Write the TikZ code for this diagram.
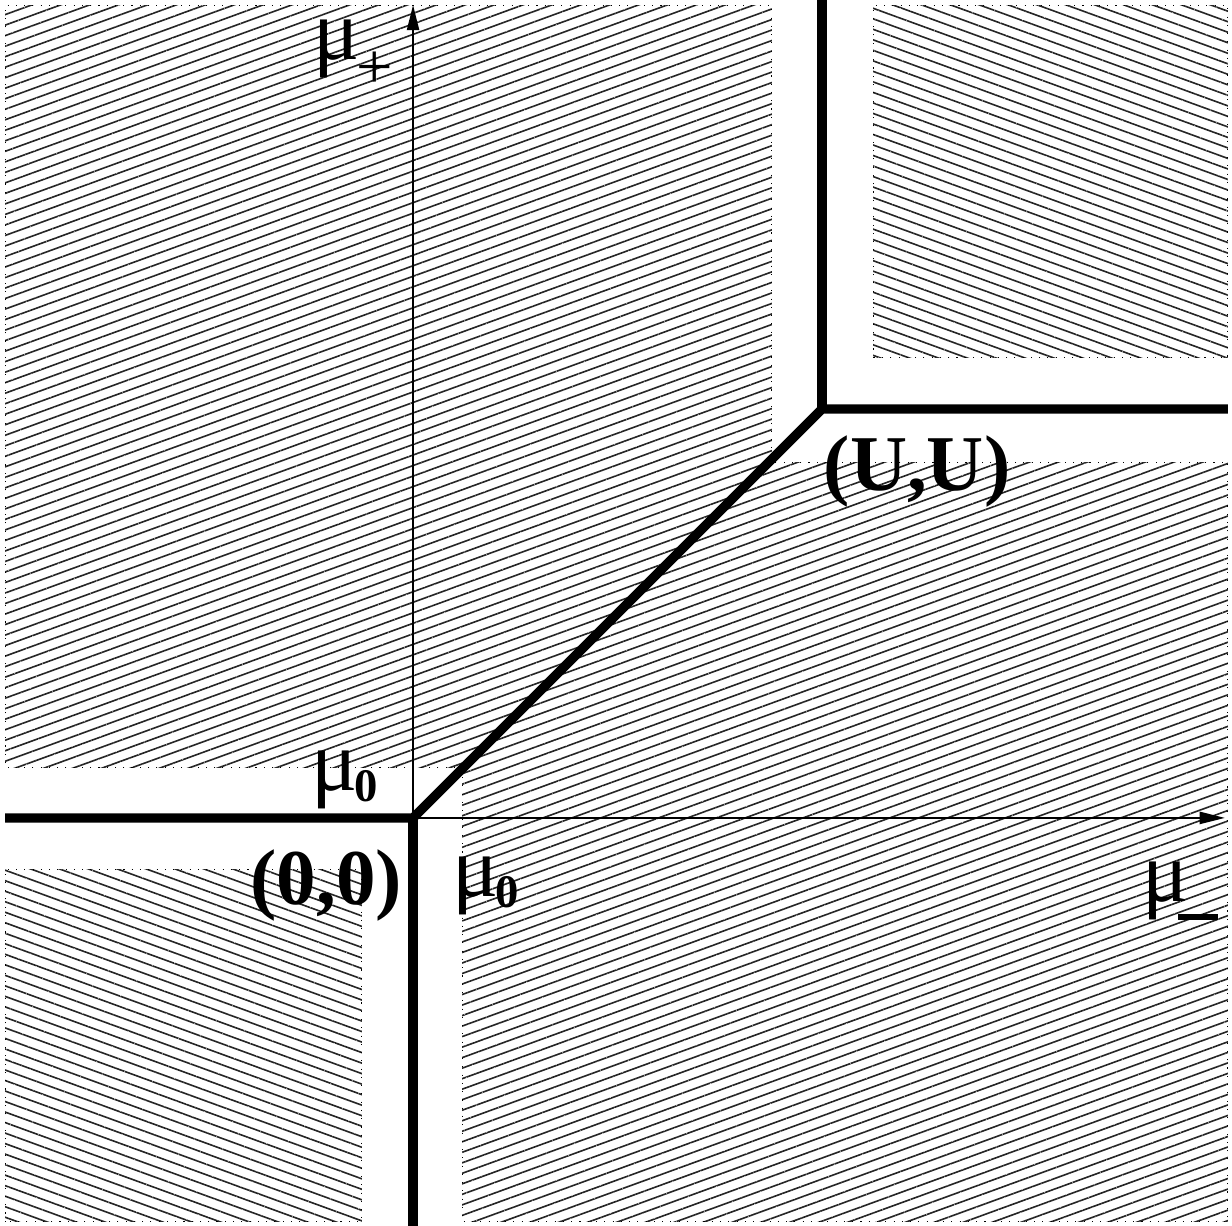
\documentclass[tikz,border=0pt]{standalone}
\usepackage{fontspec}
\setmainfont{Liberation Serif}
\usetikzlibrary{arrows.meta,patterns.meta}

\newcommand{\musub}[3]{μ\kern#1\raisebox{#2}{\fontsize{13}{15}\selectfont\bfseries #3}}

\begin{document}
\begin{tikzpicture}[
  hatchup/.style={pattern={Lines[angle=20,distance=2.75pt,line width=.45pt]}, pattern color=black!85},
  hatchdown/.style={pattern={Lines[angle=-20,distance=2.75pt,line width=.45pt]}, pattern color=black!85},
  rim/.style={dotted, line width=.3pt},
  wall/.style={line width=2.6pt},
  axis/.style={line width=.45pt, -{Triangle[length=7pt,width=3.4pt]}},
  lbl/.style={inner sep=0pt, font=\bfseries\fontsize{22}{26}\selectfont},
  mulbl/.style={inner sep=0pt, font=\fontsize{24}{28}\selectfont}]
  \useasboundingbox (-4.04,-3.99) rectangle (8.01,8.0);

  % hatched regions
  \path[hatchup] (-3.99,0.49) -- (0.49,0.49) -- (3.51,3.51) -- (3.51,7.95) -- (-3.99,7.95) -- cycle;
  \draw[rim] (0.49,0.49) -- (-3.99,0.49) -- (-3.99,7.95) -- (3.51,7.95) -- (3.51,3.51);
  \path[hatchup] (0.48,-3.95) -- (0.48,0.48) -- (3.48,3.48) -- (7.97,3.48) -- (7.97,-3.95) -- cycle;
  \draw[rim] (0.48,0.48) -- (0.48,-3.95) -- (7.97,-3.95) -- (7.97,3.48) -- (3.48,3.48);
  \path[hatchdown] (4.5,4.5) rectangle (7.97,7.95);
  \draw[rim] (4.5,4.5) rectangle (7.97,7.95);
  \path[hatchdown] (-3.99,-3.95) rectangle (-0.5,-0.5);
  \draw[rim] (-3.99,-3.95) rectangle (-0.5,-0.5);

  \coordinate (O) at (0,0);
  \coordinate (U) at (4,4);
  \coordinate (xend) at (7.94,0);
  \coordinate (yend) at (0,7.95);
  \coordinate (west) at (-3.99,0);
  \coordinate (south) at (0,-4.05);
  \coordinate (east) at (7.97,4);
  \coordinate (north) at (4,8.05);

  % axes
  \draw[axis] (O) -- (xend);
  \draw[axis] (O) -- (yend);

  % phase boundaries
  \draw[wall] (west) -- (O) -- (U) -- (east);
  \draw[wall] (O) -- (south);
  \draw[wall] (U) -- (north);

  % labels
  \node[lbl, anchor=base east] (orig) at (-0.1,-0.85) {(0,0)};
  \node[lbl, anchor=base west] (uu) at (4.01,3.2) {(U,U)};
  \node[mulbl, anchor=base west] (mup) at (-0.98,7.42) {\musub{-1pt}{-8pt}{\fontsize{18}{20}\selectfont\mdseries +}};
  \node[mulbl, anchor=base west] (mul) at (-1.0,0.27) {\musub{-1pt}{-3pt}{0}};
  \node[mulbl, anchor=base west] (mur) at (0.38,-0.77) {\musub{-1pt}{-3pt}{0}};
  \node[mulbl, anchor=base west] (mum) at (7.13,-0.82) {\musub{-3pt}{-5pt}{\rule{11pt}{1.5pt}}};
\end{tikzpicture}
\end{document}
